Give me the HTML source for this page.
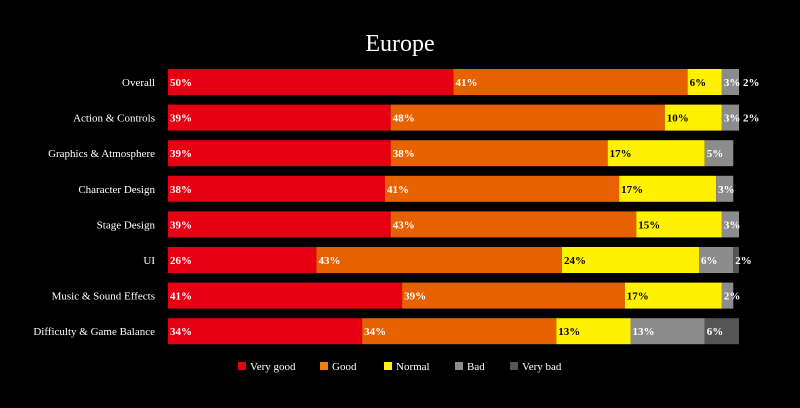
<!DOCTYPE html>
<html><head><meta charset="utf-8"><style>
body{margin:0;background:#000;}
svg{display:block;font-family:"Liberation Serif",serif;}
</style></head><body>
<svg id="chart" width="800" height="408" viewBox="0 0 800 408">
<rect x="0" y="0" width="800" height="408" fill="#000"/>
<text x="400" y="51" text-anchor="middle" fill="#fff" font-size="24">Europe</text>
<g id="rows"></g>
<g id="legend"></g>
</svg>
<script>
const categories=["Overall","Action & Controls","Graphics & Atmosphere","Character Design","Stage Design","UI","Music & Sound Effects","Difficulty & Game Balance"];
const veryGood=[50,39,39,38,39,26,41,34];
const good=[41,48,38,41,43,43,39,34];
const normal=[6,10,17,17,15,24,17,13];
const bad=[3,3,5,3,3,6,2,13];
const veryBad=[2,2,0,0,0,2,0,6];
const seriesNames=["Very good","Good","Normal","Bad","Very bad"];
const seriesKeys=["very-good","good","normal","bad","very-bad"];
const colors=["#e60012","#e86100","#fff100","#8c8c8c","#555555"];
const legendColors=["#e60012","#ef8200","#fff100","#8c8c8c","#555555"];
const textColors=["#fff","#fff","#000","#fff","#fff"];
const series=[veryGood,good,normal,bad,veryBad];
const NS="http://www.w3.org/2000/svg";
const x0=168,x1=739,rowTop=69,rowStep=35.6,barH=26;
const xs=v=>x0+(x1-x0)*v/100;
const rows=document.getElementById('rows');
function mk(tag,attrs,parent){const e=document.createElementNS(NS,tag);for(const k in attrs)e.setAttribute(k,attrs[k]);parent.appendChild(e);return e;}
categories.forEach((c,i)=>{
  const y=rowTop+i*rowStep;
  const g=mk('g',{},rows);
  
  
  const lab=mk('text',{x:155,y:y+barH/2+4,'text-anchor':'end',fill:'#fff','font-size':11},g);
  
  
  lab.textContent=c;
  let cum=0;
  series.forEach((s,j)=>{
    const v=s[i];if(!v)return;
    const start=Math.min(cum,100),end=Math.min(cum+v,100);
    cum+=v;
    if(end>start){
      const r=mk('rect',{x:xs(start),y:y,width:xs(end)-xs(start),height:barH,fill:colors[j]},g);
      
      
      const t=mk('text',{x:xs(start)+2,y:y+barH/2+4,fill:textColors[j],'font-size':11,'font-weight':'bold'},g);
      
      
      t.textContent=v+'%';
    }else{
      const t=mk('text',{x:x1+4,y:y+barH/2+4,fill:'#fff','font-size':11,'font-weight':'bold'},g);
      
      
      t.textContent=v+'%';
    }
  });
});
const leg=document.getElementById('legend');
const legX=[238,320,384,455,510];
seriesNames.forEach((n,j)=>{
  const g=mk('g',{},leg);
  
  
  mk('rect',{x:legX[j],y:362,width:8,height:8,fill:legendColors[j]},g);
  const t=mk('text',{x:legX[j]+12,y:370,fill:'#fff','font-size':11},g);
  t.textContent=n;
});
</script>
</body></html>
